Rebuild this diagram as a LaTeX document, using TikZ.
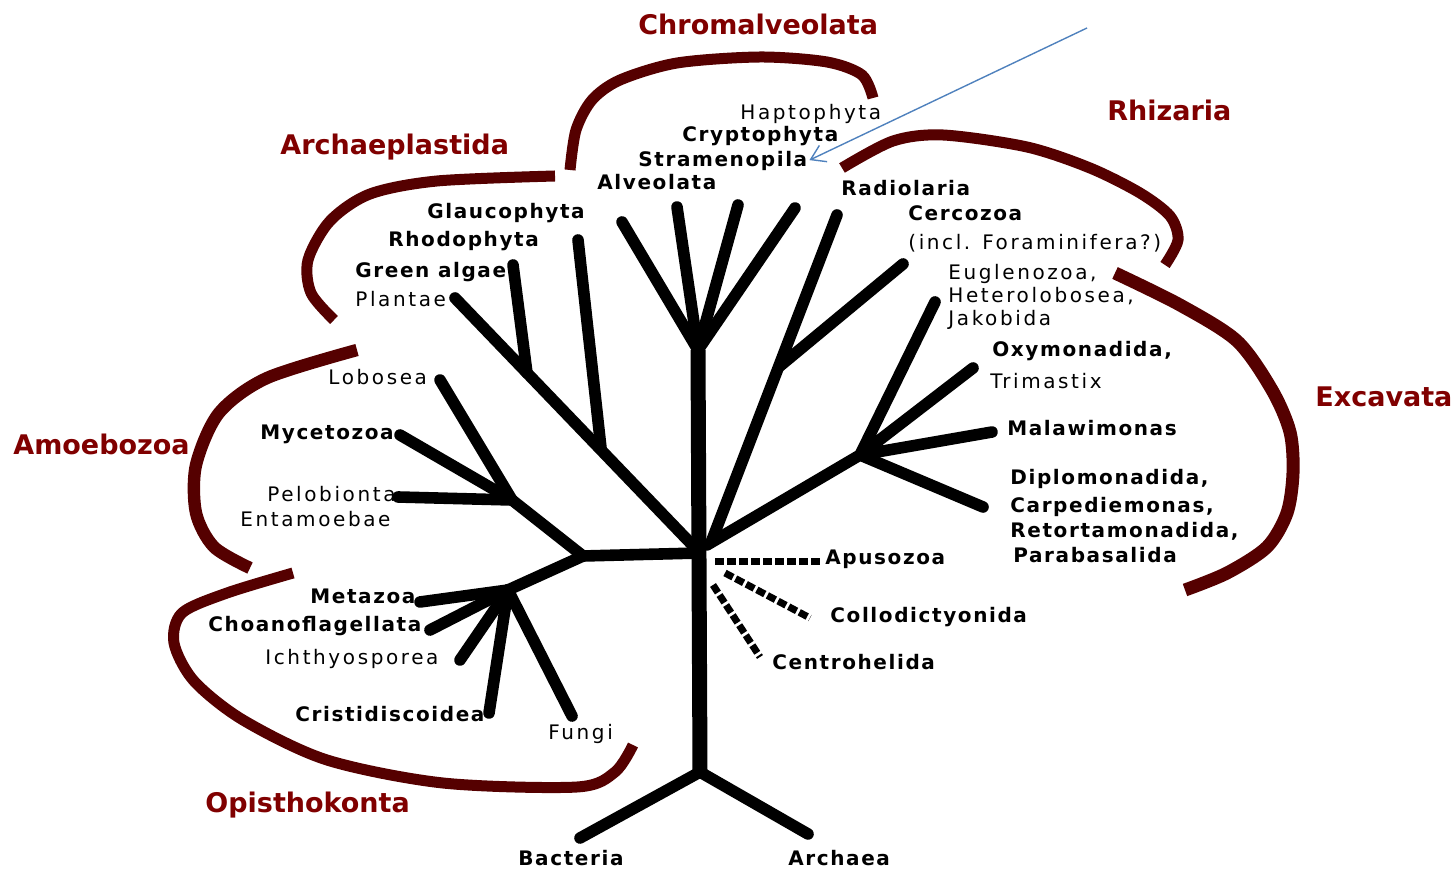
\documentclass[tikz,border=0pt]{standalone}
\usepackage{fontspec}
\setmainfont{DejaVu Sans}
\newfontfamily\thinf{DejaVu Sans}[LetterSpace=13]
\newfontfamily\labf{DejaVu Sans}[LetterSpace=8]
\usetikzlibrary{arrows.meta}
\definecolor{grp}{RGB}{128,0,0}
\definecolor{brk}{RGB}{85,0,0}
\definecolor{arrc}{RGB}{79,129,189}
\begin{document}
\begin{tikzpicture}[x=0.5pt,y=-0.5pt,
 br/.style={line width=5.8pt, line cap=round, line join=round},
 trunk/.style={line width=7.5pt},
 dsh/.style={line width=3.5pt, dash pattern=on 4.5pt off 1.5pt},
 lab/.style={font=\labf\bfseries\fontsize{10}{12}\selectfont, anchor=west, inner sep=0pt},
 labt/.style={font=\thinf\fontsize{10}{12}\selectfont, anchor=west, inner sep=0pt},
 grpl/.style={font=\bfseries\fontsize{13.5}{15}\selectfont, text=grp, anchor=west, inner sep=0pt},
 brack/.style={draw=brk, line width=5.5pt, line cap=butt, line join=round}]
\useasboundingbox (0,0) rectangle (1455,870);

% ---------- coordinates ----------
\coordinate (hub) at (700,553);
\coordinate (chj) at (698,350);
\coordinate (root) at (700,772);
\coordinate (bac) at (580,838);
\coordinate (arc) at (808,834);
% Chromalveolata tips
\coordinate (c1) at (622,222);
\coordinate (c2) at (677,207);
\coordinate (c3) at (738,205);
\coordinate (c4) at (795,208);
% Archaeplastida
\coordinate (plt) at (455,298);
\coordinate (gat) at (513,265);
\coordinate (gaj) at (527,373);
\coordinate (rht) at (578,240);
\coordinate (rhj) at (601,448);
% Amoebozoa
\coordinate (lj) at (583,556);
\coordinate (amj) at (512,500);
\coordinate (lob) at (440,380);
\coordinate (myc) at (400,435);
\coordinate (pel) at (398,497);
% Opisthokonta
\coordinate (opj) at (508,590);
\coordinate (met) at (420,602);
\coordinate (cho) at (430,630);
\coordinate (ich) at (460,660);
\coordinate (cri) at (489,713);
\coordinate (fun) at (572,716);
% Rhizaria
\coordinate (radt) at (837,215);
\coordinate (radj) at (712,540);
\coordinate (cert) at (903,264);
\coordinate (cerj) at (780,366);
% Excavata
\coordinate (exj) at (860,455);
\coordinate (exh) at (707,545);
\coordinate (eug) at (935,302);
\coordinate (oxy) at (973,368);
\coordinate (mal) at (992,432);
\coordinate (dip) at (983,507);
% dashed
\coordinate (apu0) at (715,562);
\coordinate (apu1) at (820,562);
\coordinate (col0) at (725,573);
\coordinate (col1) at (810,618);
\coordinate (cen0) at (713,585);
\coordinate (cen1) at (760,657);

% ---------- tree ----------
\draw[trunk] (chj) -- (root);
\draw[br] (root) -- (bac);
\draw[br] (root) -- (arc);
\foreach \t in {c1,c2,c3,c4} \draw[br] (\t) -- (chj);
\draw[br] (plt) -- (hub);
\draw[br] (gat) -- (gaj);
\draw[br] (rht) -- (rhj);
\draw[br] (hub) -- (lj);
\draw[br] (lj) -- (amj);
\foreach \t in {lob,myc,pel} \draw[br] (\t) -- (amj);
\draw[br] (lj) -- (opj);
\foreach \t in {met,cho,ich,cri,fun} \draw[br] (\t) -- (opj);
\draw[br] (radt) -- (radj);
\draw[br] (cert) -- (cerj);
\draw[br] (exj) -- (exh);
\foreach \t in {eug,oxy,mal,dip} \draw[br] (\t) -- (exj);
\draw[dsh] (apu0) -- (apu1);
\draw[dsh] (col0) -- (col1);
\draw[dsh] (cen0) -- (cen1);

% ---------- brackets ----------
\draw[brack] plot[smooth] coordinates {(570,170) (576,130) (592,100) (620,80) (677,63) (760,57) (827,62) (862,75) (873,98)};
\draw[brack] plot[smooth] coordinates {(555,176) (437,181) (370,194) (330,221) (308,260) (311,293) (334,320)};
\draw[brack] plot[smooth] coordinates {(842,168) (893,141) (943,135) (1027,147) (1090,168) (1140,193) (1170,216) (1178,240) (1165,265)};
\draw[brack, line width=6.5pt] plot[smooth] coordinates {(1115,273) (1180,305) (1237,341) (1272,390) (1290,432) (1293,473) (1287,513) (1267,547) (1227,573) (1185,590)};
\draw[brack, line width=6.2pt] plot[smooth] coordinates {(357,350) (267,378) (219,413) (196,465) (196,513) (214,547) (250,568)};
\draw[brack] plot[smooth] coordinates {(293,573) (227,593) (182,613) (174,643) (194,681) (243,720) (327,760) (443,783) (577,787) (615,772) (633,745)};

% ---------- group labels ----------
\node[grpl] (gchr) at (638,24) {Chromalveolata};
\node[grpl] (grhi) at (1107,110) {Rhizaria};
\node[grpl] (garc) at (280,147) {Archaeplastida};
\node[grpl] (gexc) at (1315,397) {Excavata};
\node[grpl] (gamo) at (13,444) {Amoebozoa};
\node[grpl] (gopi) at (205,805) {Opisthokonta};

% ---------- labels ----------
\node[labt] (hap) at (740,114) {Haptophyta};
\node[lab] (cry) at (682,136) {Cryptophyta};
\node[lab] (stra) at (638,161) {Stramenopila};
\node[lab] (alv) at (597,182) {Alveolata};
\node[lab] (rad) at (841,188) {Radiolaria};
\node[lab] (cer) at (908,213) {Cercozoa};
\node[labt] (inc) at (908,243) {(incl. Foraminifera?)};
\node[labt] (eugl) at (948,274) {Euglenozoa,};
\node[labt] (het) at (948,296) {Heterolobosea,};
\node[labt] (jak) at (948,320) {Jakobida};
\node[lab] (oxyl) at (992,351) {Oxymonadida,};
\node[labt] (tri) at (990,381) {Trimastix};
\node[lab] (mall) at (1007,428) {Malawimonas};
\node[lab] (dipl) at (1010,479) {Diplomonadida,};
\node[lab] (car) at (1010,507) {Carpediemonas,};
\node[lab] (ret) at (1010,531) {Retortamonadida,};
\node[lab] (par) at (1013,555) {Parabasalida};
\node[lab] (gla) at (427,213) {Glaucophyta};
\node[lab] (rho) at (388,241) {Rhodophyta};
\node[lab] (gre) at (355,272) {Green algae};
\node[labt] (pla) at (355,299) {Plantae};
\node[labt] (lobl) at (328,377) {Lobosea};
\node[lab] (mycl) at (260,434) {Mycetozoa};
\node[labt] (pell) at (267,494) {Pelobionta};
\node[labt] (ent) at (240,519) {Entamoebae};
\node[lab] (metl) at (310,596) {Metazoa};
\node[lab] (chol) at (208,626) {Choanoflagellata};
\node[labt] (ichl) at (265,659) {Ichthyosporea};
\node[lab] (cril) at (295,714) {Cristidiscoidea};
\node[labt] (funl) at (548,734) {Fungi};
\node[lab] (apul) at (825,559) {Apusozoa};
\node[lab] (coll) at (830,617) {Collodictyonida};
\node[lab] (cenl) at (772,662) {Centrohelida};
\node[lab] (bacl) at (518,858) {Bacteria};
\node[lab] (arcl) at (788,858) {Archaea};

% ---------- blue arrow ----------
\coordinate (arrS) at (1087,28);
\draw[arrc, line width=0.7pt, -{Straight Barb[length=7pt,width=9pt]}, shorten >=1pt] (arrS) -- (stra.east);
\end{tikzpicture}
\end{document}
